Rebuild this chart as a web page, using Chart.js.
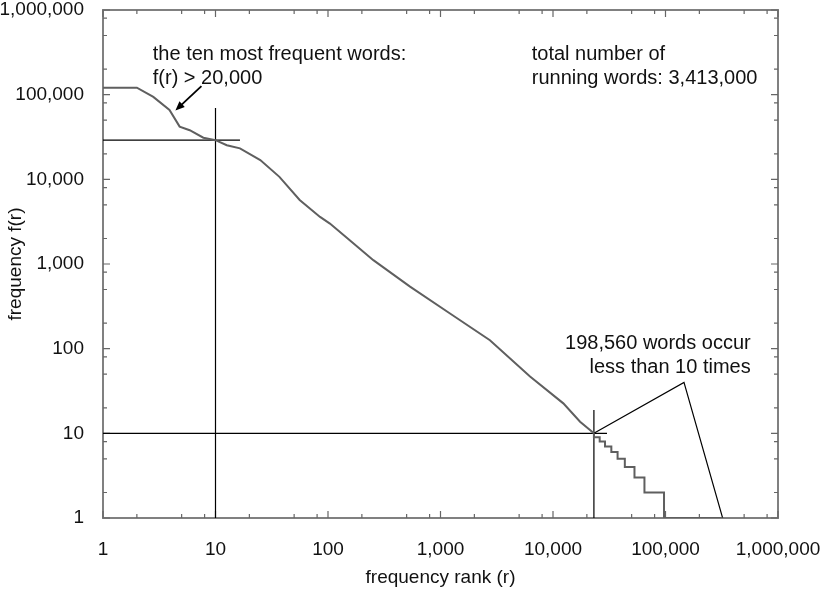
<!DOCTYPE html>
<html>
<head>
<meta charset="utf-8">
<title>Zipf rank-frequency</title>
<script src="https://cdn.jsdelivr.net/npm/chart.js@4.4.0/dist/chart.umd.min.js"></script>
<style>
  html, body { margin: 0; padding: 0; background: #fff; }
  #wrap { width: 838px; height: 595px; }
</style>
</head>
<body>
<div id="wrap"><canvas id="zipfChart"></canvas></div>
<script>
// Rank / frequency (upper, near-continuous part)
const ranks = [1, 2, 2.8, 3.9, 4.8, 5.9, 7.8, 10, 12.6, 16.5, 25, 37, 56, 85, 104, 157, 253, 536, 1215, 2750, 6250, 12350, 17400, 23100];
const freqs = [121000, 121000, 94000, 66000, 42000, 38000, 31000, 29000, 25300, 23200, 16900, 10700, 5700, 3600, 3000, 1900, 1110, 540, 260, 126, 47, 22.6, 13.7, 10];

// Low-frequency tail: stair steps f = 10 ... 1
const tailRanks = [23100, 26000, 29000, 33000, 37500, 43500, 53000, 65000, 97000, 322000];
const tailFreqs = [10, 9, 8, 7, 6, 5, 4, 3, 2, 1];

// Axis ticks
const majorTicks = [1, 10, 100, 1000, 10000, 100000, 1000000];
const minorSteps = [2, 5, 8];

// Guide lines drawn on the plot, in data units [rank, freq]
const guideLines = [
    [[1, 29000], [16.5, 29000]],
    [[10, 69600], [10, 1]],
    [[1, 10], [30200, 10]],
    [[23100, 18.8], [23100, 1]],
    [[23100, 10], [146000, 40], [322000, 1], [97000, 1]]
];
const arrowLine = [[7.5, 126000], [4.4, 65000]];

// Text notes: anchor [rank, freq] of first baseline
const notes = [
    { at: [2.77, 255000], align: 'left', lines: ['the ten most frequent words:', 'f(r) > 20,000'] },
    { at: [6470, 255000], align: 'left', lines: ['total number of', 'running words: 3,413,000'] },
    { at: [572000, 98], align: 'right', lines: ['198,560 words occur', 'less than 10 times'] }
];

const FONT = "'Liberation Sans', Arial, Helvetica, sans-serif";

const toXY = (xs, ys) => xs.map((v, i) => ({ x: v, y: ys[i] }));

const datasets = [{
    label: 'f(r)',
    data: toXY(ranks, freqs),
    borderColor: '#5f5f5f',
    borderWidth: 2,
    pointRadius: 0,
    tension: 0
}, {
    label: 'tail',
    data: toXY(tailRanks, tailFreqs),
    borderColor: '#5f5f5f',
    borderWidth: 2,
    pointRadius: 0,
    stepped: 'after'
}];

guideLines.forEach((pts, i) => {
    datasets.push({
        label: 'guide ' + i,
        data: pts.map(p => ({ x: p[0], y: p[1] })),
        borderColor: '#000',
        borderWidth: 1.2,
        pointRadius: 0,
        tension: 0
    });
});

// Box and inward ticks on all sides (under the data), arrow and notes on top
const framePlugin = {
    id: 'frame',
    beforeDatasetsDraw(chart) {
        const { ctx, chartArea: a, scales: { x, y } } = chart;
        ctx.save();
        ctx.strokeStyle = '#808080';
        ctx.lineWidth = 2;
        ctx.strokeRect(a.left, a.top, a.right - a.left, a.bottom - a.top);

        ctx.lineWidth = 1.2;
        ctx.strokeStyle = '#666';
        majorTicks.forEach((d, i) => {
            const mults = i < majorTicks.length - 1 ? [1].concat(minorSteps) : [1];
            mults.forEach(m => {
                const len = m === 1 ? 7 : 4;
                const px = x.getPixelForValue(d * m);
                const py = y.getPixelForValue(d * m);
                ctx.beginPath();
                ctx.moveTo(px, a.bottom); ctx.lineTo(px, a.bottom - len);
                ctx.moveTo(px, a.top); ctx.lineTo(px, a.top + len);
                ctx.moveTo(a.left, py); ctx.lineTo(a.left + len, py);
                ctx.moveTo(a.right, py); ctx.lineTo(a.right - len, py);
                ctx.stroke();
            });
        });
        ctx.restore();
    },
    afterDatasetsDraw(chart) {
        const { ctx, scales: { x, y } } = chart;
        ctx.save();
        // arrow
        const x0 = x.getPixelForValue(arrowLine[0][0]), y0 = y.getPixelForValue(arrowLine[0][1]);
        const x1 = x.getPixelForValue(arrowLine[1][0]), y1 = y.getPixelForValue(arrowLine[1][1]);
        const ang = Math.atan2(y1 - y0, x1 - x0);
        ctx.strokeStyle = '#000';
        ctx.fillStyle = '#000';
        ctx.lineWidth = 1.8;
        ctx.beginPath();
        ctx.moveTo(x0, y0);
        ctx.lineTo(x1 - 6 * Math.cos(ang), y1 - 6 * Math.sin(ang));
        ctx.stroke();
        ctx.beginPath();
        ctx.moveTo(x1, y1);
        ctx.lineTo(x1 - 10 * Math.cos(ang - 0.4), y1 - 10 * Math.sin(ang - 0.4));
        ctx.lineTo(x1 - 10 * Math.cos(ang + 0.4), y1 - 10 * Math.sin(ang + 0.4));
        ctx.closePath();
        ctx.fill();

        // notes
        ctx.font = '20px ' + FONT;
        ctx.fillStyle = '#111';
        ctx.textBaseline = 'alphabetic';
        notes.forEach(n => {
            const nx = x.getPixelForValue(n.at[0]);
            const ny = y.getPixelForValue(n.at[1]);
            ctx.textAlign = n.align;
            n.lines.forEach((t, k) => ctx.fillText(t, nx, ny + k * 23.5));
        });
        ctx.restore();
    }
};

const setTicks = scale => {
    scale.ticks = majorTicks.map(v => ({ value: v }));
};
const fmt = v => Number(v).toLocaleString('en-US');

new Chart(document.getElementById('zipfChart'), {
    type: 'line',
    data: { datasets },
    options: {
        responsive: true,
        maintainAspectRatio: false,
        animation: false,
        devicePixelRatio: 1,
        layout: { padding: { top: 10, right: 60, left: 0, bottom: 0 } },
        plugins: {
            legend: { display: false },
            tooltip: { enabled: false }
        },
        scales: {
            x: {
                type: 'logarithmic',
                min: 1,
                max: 1000000,
                afterBuildTicks: setTicks,
                afterFit: s => { s.height = 77; s.paddingLeft = 0; s.paddingRight = 0; },
                grid: { display: false },
                border: { display: false },
                ticks: {
                    callback: fmt,
                    color: '#111',
                    font: { family: FONT, size: 19 },
                    padding: 12,
                    maxRotation: 0,
                    autoSkip: false
                },
                title: {
                    display: true,
                    text: 'frequency rank (r)',
                    color: '#111',
                    font: { family: FONT, size: 19 },
                    padding: { top: 0, bottom: 6 }
                }
            },
            y: {
                type: 'logarithmic',
                min: 1,
                max: 1000000,
                afterBuildTicks: setTicks,
                afterFit: s => { s.width = 103; s.paddingTop = 0; s.paddingBottom = 0; },
                grid: { display: false },
                border: { display: false },
                ticks: {
                    callback: fmt,
                    color: '#111',
                    font: { family: FONT, size: 19 },
                    padding: 11,
                    autoSkip: false
                },
                title: {
                    display: true,
                    text: 'frequency f(r)',
                    color: '#111',
                    font: { family: FONT, size: 19 },
                    padding: { top: 4, bottom: 0 }
                }
            }
        }
    },
    plugins: [framePlugin]
});
</script>
</body>
</html>
